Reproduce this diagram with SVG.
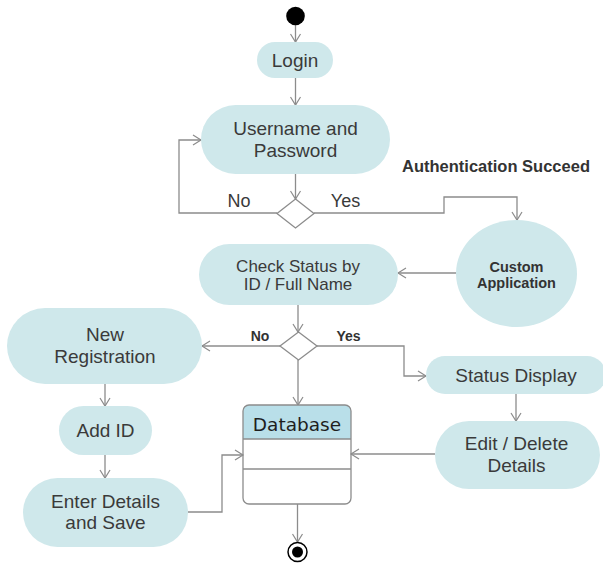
<svg xmlns="http://www.w3.org/2000/svg" width="603" height="564" viewBox="0 0 603 564">
<style>
.n{fill:#cfe8eb;stroke:none}
.t{font-family:"Liberation Sans",Arial,sans-serif;font-size:19px;fill:#3a3a3a;text-anchor:middle}
.s{font-size:17px}
.b{font-family:"Liberation Sans",Arial,sans-serif;font-weight:bold;fill:#333;text-anchor:middle}
.c{fill:none;stroke:#8c8c8c;stroke-width:1.3}
.d{fill:#fff;stroke:#8c8c8c;stroke-width:1.3}
</style>
<defs>
<marker id="a" markerWidth="12" markerHeight="12" refX="9" refY="6" orient="auto" markerUnits="userSpaceOnUse">
<path d="M1,1 L9,6 L1,11" fill="none" stroke="#8c8c8c" stroke-width="1.2"/>
</marker>
</defs>
<g id="connectors">
<path class="c" d="M295.5,25 V42" marker-end="url(#a)"/>
<path class="c" d="M295.5,78 V105" marker-end="url(#a)"/>
<path class="c" d="M295.5,174 V199" marker-end="url(#a)"/>
<path class="c" d="M277,213 H179 V140 H201" marker-end="url(#a)"/>
<path class="c" d="M314,213 H444 V197 H517 V220" marker-end="url(#a)"/>
<path class="c" d="M456,273 H398" marker-end="url(#a)"/>
<path class="c" d="M298,305 V332" marker-end="url(#a)"/>
<path class="c" d="M280,346 H202" marker-end="url(#a)"/>
<path class="c" d="M317,346 H404 V376 H426" marker-end="url(#a)"/>
<path class="c" d="M298,360 V405" marker-end="url(#a)"/>
<path class="c" d="M105,384 V406" marker-end="url(#a)"/>
<path class="c" d="M105,455 V478" marker-end="url(#a)"/>
<path class="c" d="M188,512 H222 V455 H243" marker-end="url(#a)"/>
<path class="c" d="M516,394 V421" marker-end="url(#a)"/>
<path class="c" d="M435,454 H351" marker-end="url(#a)"/>
<path class="c" d="M297.5,504 V542" marker-end="url(#a)"/>
</g>
<g id="start"><circle cx="295.5" cy="16" r="9.3" fill="#000"/></g>
<g id="login"><rect class="n" x="257" y="42" width="76" height="36" rx="18"/><text class="t" x="295" y="67">Login</text></g>
<g id="username"><rect class="n" x="201" y="105" width="189" height="69" rx="34.5"/><text class="t" x="295.5" y="135">Username and</text><text class="t" x="295.5" y="157">Password</text></g>
<g id="decision1"><path class="d" d="M295.5,199 L314,213.5 L295.5,228 L277,213.5 Z"/><text class="t" x="239" y="207" style="font-size:18px">No</text><text class="t" x="345.5" y="207" style="font-size:18px">Yes</text></g>
<g id="auth-label"><text class="b" x="496" y="172" style="font-size:16.5px">Authentication Succeed</text></g>
<g id="custom-app"><ellipse class="n" cx="516.5" cy="273.5" rx="60.5" ry="53.5"/><text class="b" x="516.5" y="272" style="font-size:14.5px">Custom</text><text class="b" x="516.5" y="288" style="font-size:14.5px">Application</text></g>
<g id="check-status"><rect class="n" x="199" y="244" width="199" height="61" rx="30.5"/><text class="t s" x="298" y="272">Check Status by</text><text class="t s" x="298" y="290">ID / Full Name</text></g>
<g id="decision2"><path class="d" d="M298.5,332 L317,346 L298.5,360 L280,346 Z"/><text class="b" x="260" y="341" style="font-size:14px">No</text><text class="b" x="348.5" y="341" style="font-size:14px">Yes</text></g>
<g id="new-registration"><rect class="n" x="7" y="308" width="195" height="76" rx="38"/><text class="t" x="105" y="341">New</text><text class="t" x="105" y="363">Registration</text></g>
<g id="status-display"><rect class="n" x="426" y="356" width="180" height="38" rx="19"/><text class="t" x="516" y="382">Status Display</text></g>
<g id="add-id"><rect class="n" x="59" y="406" width="93" height="49" rx="24.5"/><text class="t" x="105.5" y="437">Add ID</text></g>
<g id="enter-details"><rect class="n" x="23" y="478" width="165" height="69" rx="34.5"/><text class="t" x="105.5" y="508">Enter Details</text><text class="t" x="105.5" y="529">and Save</text></g>
<g id="edit-delete"><rect class="n" x="435" y="421" width="165" height="68" rx="34"/><text class="t" x="516.5" y="450">Edit / Delete</text><text class="t" x="516.5" y="472">Details</text></g>
<g id="database">
<path d="M249,405 H345 A6,6 0 0 1 351,411 V439 H243 V411 A6,6 0 0 1 249,405 Z" fill="#b9dfe9"/>
<rect x="243" y="405" width="108" height="99" rx="6" fill="none" stroke="#8c8c8c" stroke-width="1.3"/>
<line x1="243" y1="439" x2="351" y2="439" stroke="#8c8c8c" stroke-width="1.3"/>
<line x1="243" y1="469" x2="351" y2="469" stroke="#8c8c8c" stroke-width="1.3"/>
<text x="297" y="431" style="font-family:'DejaVu Sans',Verdana,sans-serif;font-size:18.5px;fill:#1e1e1e;text-anchor:middle">Database</text>
</g>
<g id="end"><circle cx="297.5" cy="552" r="9.5" fill="#fff" stroke="#000" stroke-width="1.5"/><circle cx="297.5" cy="552" r="5.5" fill="#000"/></g>
</svg>
